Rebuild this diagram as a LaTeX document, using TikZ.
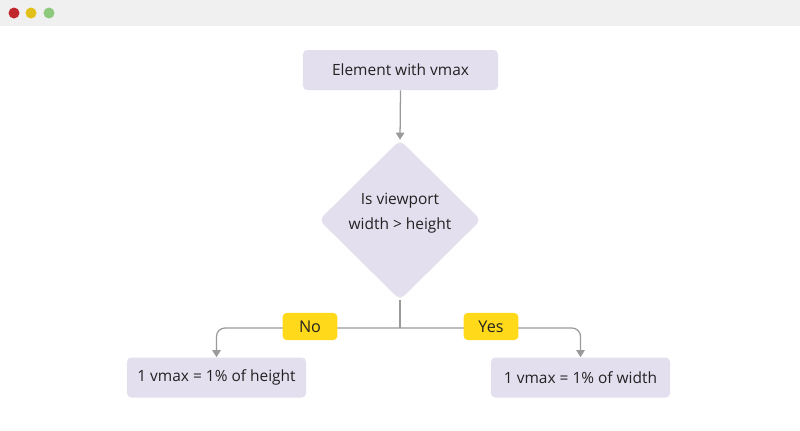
\documentclass[tikz,border=0pt]{standalone}
\usepackage{fontspec}
\setmainfont{Open Sans}
\usepackage{tikz}
\usepackage{xcolor}
\usetikzlibrary{shapes.geometric, arrows.meta, positioning}
\definecolor{FlowLavender}{HTML}{E3DFEE}
\definecolor{FlowYellow}{HTML}{FFD91A}
\definecolor{FlowGrey}{HTML}{9A9A9A}
\definecolor{FlowText}{HTML}{222222}
\definecolor{BarGrey}{HTML}{F0F0F0}
\definecolor{DotRed}{HTML}{C0282D}
\definecolor{DotYellow}{HTML}{E2C01A}
\definecolor{DotGreen}{HTML}{8CC97C}
\tikzset{
    % Node styles
    stepbox/.style={
        rectangle,
        rounded corners=3pt,
        draw=none,
        fill=FlowLavender,
        minimum height=1cm,
        text=FlowText,
        font=\fontsize{11}{13}\selectfont
    },
    decisionbox/.style={
        diamond,
        rounded corners=4pt,
        draw=none,
        fill=FlowLavender,
        minimum width=4.05cm,
        minimum height=4.0cm,
        inner sep=0pt,
        align=center,
        text=FlowText,
        font=\fontsize{11}{18}\selectfont
    },
    answerbox/.style={
        rectangle,
        rounded corners=3pt,
        fill=FlowYellow,
        minimum width=1.37cm,
        minimum height=0.68cm,
        text=FlowText,
        font=\fontsize{11.5}{13}\selectfont
    },
    % Arrow styles
    flowline/.style={
        line width=0.9pt,
        FlowGrey
    },
    flowarrow/.style={
        flowline,
        -{Triangle[length=5pt,width=6pt]},
        rounded corners=6pt
    }
}
\begin{document}
\begin{tikzpicture}[x=0.025cm, y=-0.025cm]
    \useasboundingbox (0,0) rectangle (800,430);
    % Window bar
    \fill[BarGrey] (0,0) rectangle (800,26);
    \fill[DotRed] (14,13) circle (5.5);
    \fill[DotYellow] (31,13) circle (5.5);
    \fill[DotGreen] (49,13) circle (5.5);

    % Flow nodes
    \node[stepbox, minimum width=4.875cm] (start) at (400.5,70) {Element with vmax};
    \node[decisionbox] (check) at (400,220) {Is viewport\\width > height\\[-6pt]};
    \node[stepbox, minimum width=4.475cm] (byheight) at (216.5,377.5) {1 vmax = 1\% of height};
    \node[stepbox, minimum width=4.475cm] (bywidth) at (580.5,377.5) {1 vmax = 1\% of width};
    \coordinate (split) at (400,328);

    \draw[flowarrow] (start.south) -- (check.north);
    \draw[flowline] (check.south) -- (split);
    \draw[flowarrow] (split) -| (byheight.north);
    \draw[flowarrow] (split) -| (bywidth.north);

    % Answer labels
    \node[answerbox] (no) at (310,326.5) {No};
    \node[answerbox] (yes) at (491,326.5) {Yes};
\end{tikzpicture}
\end{document}
